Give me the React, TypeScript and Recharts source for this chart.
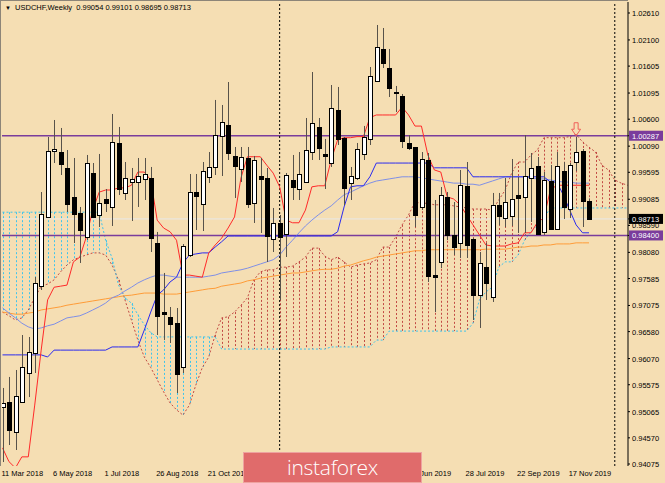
import React from "react";
import { ComposedChart, Bar, Line, XAxis, YAxis, ReferenceLine, ReferenceDot } from "recharts";

// weekly USDCHF candles, index 0 = week of 11 Mar 2018
const OPENS = [
  0.95154, 0.95248, 0.9468, 0.95248, 0.95797, 0.96175, 0.97443, 0.9875, 0.99998, 0.99979,
  0.99677, 0.99128, 0.98825, 0.98371, 0.99582, 0.98787, 0.9909, 0.98939, 1.0015, 0.99204,
  0.99412, 0.99412, 0.99469, 0.99488, 0.98257, 0.96951, 0.96857, 0.96743, 0.95911, 0.9803,
  0.99222, 0.98995, 0.99506, 0.99696, 1.00282, 1.00491, 0.99904, 0.99658, 0.99866, 0.99014,
  0.99525, 0.99488, 0.98333, 0.98636, 0.98428, 0.9945, 0.99279, 0.99412, 0.99979, 1.00453,
  0.99942, 0.99771, 1.00774, 1.00244, 0.99393, 0.99488, 0.99942, 1.00226, 1.01323, 1.01929,
  1.01569, 1.01115, 1.01039, 1.0015, 1.00074, 0.98939, 0.99828, 0.97652, 0.97898, 0.99128,
  0.98409, 0.98257, 0.99336, 0.98333, 0.97273, 0.97803, 0.97235, 0.98976, 0.98731, 0.98768,
  0.99166, 0.99128, 0.99488, 0.99715, 0.98466, 0.99431, 0.98522, 0.9962, 0.98901, 0.9979,
  0.99998, 0.99054,
];
const HIGHS = [
  0.95514, 0.95722, 0.95854, 0.96516, 0.96478, 0.97614, 0.99222, 1.00263, 1.00585, 1.00434,
  1.00017, 0.99866, 0.98939, 0.99923, 0.99771, 0.99942, 0.99279, 1.00699, 1.00453, 0.9979,
  0.99677, 0.99866, 0.99866, 0.99696, 0.98466, 0.9769, 0.97046, 0.97027, 0.98238, 0.99563,
  0.99563, 0.9979, 0.99979, 1.00964, 1.00869, 1.01304, 1.00074, 1.00074, 1.00074, 0.99904,
  0.99866, 0.99677, 0.9892, 0.98787, 0.99582, 0.99923, 0.99979, 1.00623, 1.01493, 1.00623,
  1.00226, 1.01247, 1.0121, 1.00263, 0.99696, 1.0015, 1.00472, 1.01588, 1.02383, 1.02326,
  1.01929, 1.01229, 1.01077, 1.00301, 1.00074, 0.99979, 0.9996, 0.99071, 0.99317, 0.99222,
  0.99033, 0.99639, 0.9979, 0.98352, 0.98087, 0.98257, 0.99204, 0.99204, 0.99488, 0.99847,
  0.99506, 1.00301, 0.9996, 0.99885, 0.99601, 0.99734, 0.99979, 0.9979, 0.99771, 1.00263,
  1.00036, 0.99101,
];
const LOWS = [
  0.94112, 0.94434, 0.9434, 0.95229, 0.95342, 0.95797, 0.97368, 0.98731, 0.99771, 0.99544,
  0.98844, 0.98257, 0.97879, 0.98314, 0.98731, 0.9856, 0.98844, 0.98579, 0.99166, 0.99071,
  0.98674, 0.98939, 0.99071, 0.98087, 0.96516, 0.96422, 0.96365, 0.95418, 0.95797, 0.97992,
  0.98503, 0.98484, 0.99393, 0.99544, 0.99525, 0.99828, 0.99109, 0.99412, 0.9892, 0.98636,
  0.98447, 0.97898, 0.98087, 0.97179, 0.97992, 0.99071, 0.99071, 0.99393, 0.99828, 0.99828,
  0.99279, 0.99696, 1.00112, 0.98976, 0.99071, 0.9945, 0.99828, 1.00112, 1.01304, 1.01569,
  1.0102, 1.00736, 1.00055, 1.00017, 0.9856, 0.98882, 0.97519, 0.96951, 0.97784, 0.98314,
  0.9803, 0.97974, 0.97974, 0.968, 0.96649, 0.97179, 0.97141, 0.98598, 0.9856, 0.98579,
  0.98447, 0.98447, 0.98655, 0.98428, 0.98409, 0.98503, 0.98503, 0.98712, 0.98731, 0.9962,
  0.9856, 0.98695,
];
const CLOSES = [
  0.95229, 0.94718, 0.95361, 0.95911, 0.96194, 0.975, 0.98806, 0.99998, 1.00036, 0.99752,
  0.98995, 0.98806, 0.98503, 0.99771, 0.9875, 0.99014, 0.99014, 1.00169, 0.99279, 0.99488,
  0.99469, 0.99525, 0.99563, 0.98352, 0.96876, 0.96913, 0.96724, 0.95778, 0.98201, 0.99222,
  0.99147, 0.9962, 0.99696, 1.00301, 1.00547, 0.99961, 0.99715, 0.99885, 0.98995, 0.99828,
  0.99469, 0.9839, 0.98636, 0.98371, 0.99544, 0.99317, 0.99563, 1.00017, 1.00528, 1.00055,
  0.99904, 1.00812, 1.00226, 0.99298, 0.99525, 1.00036, 1.00263, 1.01418, 1.01967, 1.01664,
  1.01191, 1.01096, 1.00188, 1.00055, 0.98787, 0.99847, 0.97633, 0.97614, 0.99166, 0.98409,
  0.98182, 0.99355, 0.9822, 0.97273, 0.97879, 0.975, 0.98976, 0.98768, 0.99033, 0.9909,
  0.99109, 0.99525, 0.99677, 0.98428, 0.9945, 0.98522, 0.99715, 0.98939, 0.99734, 0.99979,
  0.99054, 0.98713,
];

// Ichimoku lines
const TENKAN = [
  0.9438, 0.9412, 0.94, 0.9421, 0.9421, 0.9519, 0.9623, 0.9718, 0.9742, 0.9744,
  0.9746, 0.979, 0.9799, 0.9837, 0.9888, 0.9922, 0.9926, 0.9926, 0.993, 0.993,
  0.9935, 0.996, 0.996, 0.9945, 0.9869, 0.9854, 0.9847, 0.9831, 0.9765, 0.9765,
  0.9763, 0.9761, 0.9807, 0.9822, 0.9835, 0.9854, 0.9875, 0.9949, 0.9989, 0.9989,
  0.9989, 0.9973, 0.9958, 0.9932, 0.9869, 0.9864, 0.9864, 0.9888, 0.9932, 0.9934,
  0.9934, 0.9983, 1.0021, 1.0025, 1.0025, 1.0027, 1.0027, 1.0063, 1.0068, 1.0068,
  1.0068, 1.0068, 1.0083, 1.0068, 1.0047, 1.0047, 0.9992, 0.9964, 0.996, 0.9913,
  0.9909, 0.9898, 0.9879, 0.986, 0.9841, 0.9822, 0.982, 0.982, 0.982, 0.9824,
  0.9826, 0.9845, 0.9845, 0.9865, 0.9873, 0.9926, 0.9935, 0.9935, 0.9935, 0.9935,
  0.9935, 0.9935,
];
const KIJUN = [
  0.9614, 0.9614, 0.9614, 0.9614, 0.9614, 0.9614, 0.9614, 0.961, 0.9623, 0.9623,
  0.9623, 0.9623, 0.9623, 0.9623, 0.9623, 0.9623, 0.9623, 0.9629, 0.9629, 0.9629,
  0.9629, 0.9629, 0.9661, 0.9695, 0.9727, 0.9737, 0.9752, 0.9761, 0.9788, 0.9803,
  0.9805, 0.9807, 0.9807, 0.9818, 0.9828, 0.9839, 0.9839, 0.9839, 0.9839, 0.9839,
  0.9839, 0.9839, 0.9839, 0.9839, 0.9839, 0.9839, 0.9839, 0.9839, 0.9839, 0.9839,
  0.9839, 0.9839, 0.9847, 0.9894, 0.9932, 0.9934, 0.9934, 0.9951, 0.9977, 0.9977,
  0.9977, 0.9977, 0.9977, 0.9977, 0.9977, 0.9977, 0.9977, 0.9968, 0.9968, 0.9968,
  0.9968, 0.9968, 0.9968, 0.9951, 0.9951, 0.9951, 0.9951, 0.9951, 0.9951, 0.9951,
  0.9951, 0.9951, 0.9951, 0.9951, 0.9951, 0.9941, 0.9941, 0.9917, 0.9888, 0.986,
  0.9845, 0.9845,
];
// senkou spans, already shifted 26 weeks ahead (run to index 97)
const SPAN_A = [
  0.9695, 0.9688, 0.968, 0.9684, 0.9699, 0.9722, 0.9744, 0.9748, 0.9756, 0.9771,
  0.9784, 0.9794, 0.9799, 0.9803, 0.9807, 0.9807, 0.9803, 0.9784, 0.9756, 0.9718,
  0.968, 0.9642, 0.961, 0.959, 0.9567, 0.9544, 0.9523, 0.951, 0.95, 0.9519,
  0.9557, 0.959, 0.961, 0.9652, 0.9684, 0.9686, 0.9695, 0.9708, 0.9722, 0.9756,
  0.9771, 0.9775, 0.9775, 0.978, 0.978, 0.9782, 0.979, 0.9799, 0.9816, 0.9816,
  0.9801, 0.9794, 0.9799, 0.979, 0.978, 0.9784, 0.9786, 0.9788, 0.9794, 0.9818,
  0.9818, 0.9837, 0.986, 0.9879, 0.9903, 0.9901, 0.9901, 0.9898, 0.9898, 0.9898,
  0.9896, 0.9894, 0.9892, 0.989, 0.989, 0.989, 0.9888, 0.9907, 0.9926, 0.9958,
  0.9979, 0.9979, 0.9992, 1.0002, 1.0025, 1.0025, 1.0025, 1.0025, 1.0027, 1.0031,
  1.0017, 1.0007, 0.9998, 0.9973, 0.9964, 0.9945, 0.9939, 0.9935,
];
const SPAN_B = [
  0.9884, 0.9884, 0.9884, 0.9884, 0.9884, 0.9884, 0.9884, 0.9884, 0.9884, 0.9884,
  0.9884, 0.9884, 0.9884, 0.9884, 0.9884, 0.9884, 0.9831, 0.9797, 0.9746, 0.9722,
  0.9712, 0.969, 0.9671, 0.9656, 0.9648, 0.9648, 0.9648, 0.9648, 0.9648, 0.9648,
  0.9648, 0.9648, 0.9648, 0.9648, 0.9625, 0.9625, 0.9625, 0.9625, 0.9625, 0.9625,
  0.9625, 0.9625, 0.9625, 0.9625, 0.9625, 0.9625, 0.9625, 0.9625, 0.9625, 0.9625,
  0.9625, 0.9629, 0.9629, 0.9629, 0.9629, 0.9629, 0.9629, 0.9629, 0.9642, 0.9642,
  0.9659, 0.9659, 0.9659, 0.9659, 0.9659, 0.9659, 0.9659, 0.9659, 0.9659, 0.9659,
  0.9659, 0.9659, 0.9659, 0.9674, 0.9718, 0.9733, 0.9742, 0.978, 0.979, 0.979,
  0.9803, 0.9831, 0.9847, 0.986, 0.9873, 0.9892, 0.9892, 0.9892, 0.9892, 0.9892,
  0.9892, 0.9892, 0.9892, 0.9892, 0.9892, 0.9892, 0.9892, 0.9892,
];

// moving averages
const MA_FAST = [
  0.9703, 0.9693, 0.9684, 0.9674, 0.9667, 0.9663, 0.9665, 0.9669, 0.9672, 0.9678,
  0.9684, 0.9686, 0.9688, 0.9693, 0.9699, 0.9705, 0.9712, 0.9722, 0.9727, 0.9735,
  0.9742, 0.975, 0.9756, 0.9761, 0.9765, 0.9765, 0.9763, 0.9761, 0.9761, 0.9761,
  0.9761, 0.9761, 0.9763, 0.9765, 0.9769, 0.9771, 0.9773, 0.9775, 0.9778, 0.9782,
  0.9786, 0.979, 0.9794, 0.9803, 0.9818, 0.9831, 0.9845, 0.9858, 0.9869, 0.9879,
  0.9888, 0.9896, 0.9907, 0.9917, 0.9922, 0.9928, 0.9934, 0.9939, 0.9943, 0.9945,
  0.9947, 0.9949, 0.9951, 0.9951, 0.9951, 0.9949, 0.9947, 0.9945, 0.9943, 0.9941,
  0.9939, 0.9939, 0.9937, 0.9937, 0.9935, 0.9939, 0.9943, 0.9947, 0.9951, 0.9951,
  0.9951, 0.9951, 0.9949, 0.9947, 0.9947, 0.9945, 0.9943, 0.9941, 0.9941, 0.9939,
  0.9939, 0.9939,
];
const MA_SLOW = [
  0.9695, 0.9693, 0.9691, 0.9691, 0.9693, 0.9695, 0.9699, 0.9701, 0.9703, 0.9705,
  0.9708, 0.971, 0.9712, 0.9714, 0.9716, 0.9718, 0.972, 0.9722, 0.9724, 0.9726,
  0.9727, 0.9729, 0.9731, 0.9731, 0.9731, 0.9729, 0.9729, 0.9729, 0.9731, 0.9733,
  0.9735, 0.9737, 0.9739, 0.974, 0.9744, 0.9746, 0.9748, 0.975, 0.9754, 0.9756,
  0.9759, 0.9761, 0.9763, 0.9765, 0.9767, 0.9769, 0.9769, 0.9771, 0.9773, 0.9775,
  0.9776, 0.9776, 0.9778, 0.9782, 0.9784, 0.9788, 0.9792, 0.9795, 0.9799, 0.9801,
  0.9803, 0.9805, 0.9807, 0.9809, 0.9811, 0.9811, 0.9813, 0.9813, 0.9813, 0.9813,
  0.9813, 0.9813, 0.9813, 0.9813, 0.9813, 0.9814, 0.9814, 0.9814, 0.9814, 0.9816,
  0.9818, 0.9818, 0.982, 0.982, 0.9822, 0.9822, 0.9824, 0.9824, 0.9824, 0.9826,
  0.9826, 0.9826,
];

const Y_TICKS = [
  1.0261, 1.021, 1.01605, 1.01095, 1.006, 1.0009, 0.99595, 0.99085, 0.9859,
  0.9808, 0.97585, 0.97075, 0.9658, 0.9607, 0.95575, 0.95065, 0.9457, 0.94075,
];
const RESIST = 1.00287;
const SUPPORT = 0.984;
const BID = 0.98713;
const X_TICKS = [0, 8, 16, 24, 32, 40, 48, 56, 64, 72, 80, 88];
const X_LABELS = [
  "11 Mar 2018", "6 May 2018", "1 Jul 2018", "26 Aug 2018", "21 Oct 2018", "16 Dec 2018",
  "10 Feb 2019", "7 Apr 2019", "2 Jun 2019", "28 Jul 2019", "22 Sep 2019", "17 Nov 2019",
];
const YEAR_SEPARATORS = [43, 95];
const ARROW_WEEK = 89;

const BG = "#f5deb3";
const PURPLE = "#7a3c9c";
const KUMO_UP = "#c24a44";
const KUMO_DOWN = "#3ec4ec";
const FONT = "'Liberation Sans', Arial, sans-serif";
const W = 665;
const H = 483;
const X_AXIS_H = 17;

const rows = SPAN_A.map((a, i) => {
  const b = SPAN_B[i];
  const has = i < CLOSES.length;
  return {
    i,
    o: has ? OPENS[i] : null,
    h: has ? HIGHS[i] : null,
    l: has ? LOWS[i] : null,
    c: has ? CLOSES[i] : null,
    candle: has ? [LOWS[i], HIGHS[i]] : null,
    tenkan: i < TENKAN.length ? TENKAN[i] : null,
    kijun: i < KIJUN.length ? KIJUN[i] : null,
    maFast: i < MA_FAST.length ? MA_FAST[i] : null,
    maSlow: i < MA_SLOW.length ? MA_SLOW[i] : null,
    spanA: a,
    spanB: b,
    kumo: [Math.min(a, b), Math.max(a, b)],
  };
});

const Candle = (props: any) => {
  const { x, y, width, height } = props;
  const p = props.payload || props;
  if (p.o == null || !isFinite(y) || !isFinite(height)) return null;
  const k = height / (p.h - p.l);
  const cx = Math.round(x + width / 2) + 0.5;
  const yo = y + (p.h - p.o) * k;
  const yc = y + (p.h - p.c) * k;
  const top = Math.round(Math.min(yo, yc)) + 0.5;
  const bh = Math.max(Math.round(Math.abs(yc - yo)), 1);
  return (
    <g>
      <line x1={cx} x2={cx} y1={y} y2={y + height} stroke="#57524a" strokeWidth={1} />
      <rect x={cx - 2} y={top} width={4} height={bh} fill={p.c >= p.o ? "#ffffff" : "#000000"} stroke="#000" strokeWidth={1} />
    </g>
  );
};

const Hatch = (props: any) => {
  const { x, y, width, height } = props;
  const p = props.payload || props;
  if (!isFinite(y) || !isFinite(height) || Math.abs(height) < 1) return null;
  const cx = Math.round(x + width / 2) + 0.5;
  const color = p.spanA > p.spanB ? KUMO_UP : KUMO_DOWN;
  return <line x1={cx} x2={cx} y1={y} y2={y + height} stroke={color} strokeWidth={1} strokeDasharray="2 2" />;
};

const PriceTick = (props: any) => {
  const { x, y, payload } = props;
  const v = payload.value;
  const tag = v === RESIST || v === SUPPORT ? PURPLE : v === BID ? "#000" : null;
  if (tag) {
    return (
      <g>
        <rect x={x - 3} y={y - 5} width={34} height={10} fill={tag} />
        <text x={x} y={y} dy={3} fontSize={7.5} fontFamily={FONT} fill="#fff">{v.toFixed(5)}</text>
      </g>
    );
  }
  return <text x={x} y={y} dy={3} fontSize={7.5} fontFamily={FONT} fill="#000">{v.toFixed(5)}</text>;
};

// date labels sit just under the bottom axis line, starting at their week
const DateTick = (props: any) => {
  const { x, payload } = props;
  const k = X_TICKS.indexOf(payload.value);
  return <text x={x - 1} y={H - X_AXIS_H + 10} fontSize={7.5} fontFamily={FONT} fill="#000" textAnchor="start">{X_LABELS[k]}</text>;
};

const Arrow = (props: any) => {
  const { cx, cy } = props;
  if (!isFinite(cx) || !isFinite(cy)) return null;
  const pts = [[0, 0], [-4.5, -6.5], [-2, -6.5], [-2, -13], [2, -13], [2, -6.5], [4.5, -6.5]]
    .map(([dx, dy]) => `${cx + dx},${cy + dy}`).join(" ");
  return <polygon points={pts} fill="none" stroke="#f0605a" strokeWidth={1} />;
};

const DOMAIN_X: [number, number] = [-0.078, 97.05];

export default function App() {
  return (
    <div style={{ position: "absolute", left: 0, top: 0, width: W, height: H, background: BG, overflow: "hidden", fontFamily: FONT }}>
      <ComposedChart width={W} height={H} data={rows} margin={{ top: 2, right: 0, bottom: 0, left: 2 }}>
        <XAxis xAxisId="p" dataKey="i" type="number" domain={DOMAIN_X} allowDataOverflow ticks={X_TICKS} interval={0}
          tick={<DateTick />} tickSize={3} axisLine={{ stroke: "#000" }} tickLine={{ stroke: "#000" }} height={X_AXIS_H} />
        <XAxis xAxisId="k" dataKey="i" type="number" domain={DOMAIN_X} allowDataOverflow hide />
        <YAxis yAxisId="p" orientation="right" type="number" domain={[0.94037, 1.02818]} allowDataOverflow
          ticks={[...Y_TICKS, RESIST, BID, SUPPORT]} interval={0} tick={<PriceTick />} width={37}
          tickSize={2} tickMargin={2} axisLine={{ stroke: "#000" }} tickLine={{ stroke: "#000" }} />

        <Bar xAxisId="k" yAxisId="p" dataKey="kumo" barSize={1} shape={Hatch} isAnimationActive={false} zIndex={100} />
        <Line xAxisId="p" yAxisId="p" dataKey="spanA" stroke={KUMO_UP} strokeDasharray="2 2" dot={false} strokeWidth={1} isAnimationActive={false} />
        <Line xAxisId="p" yAxisId="p" dataKey="spanB" stroke={KUMO_DOWN} strokeDasharray="2 2" dot={false} strokeWidth={1} isAnimationActive={false} />

        <ReferenceLine xAxisId="p" yAxisId="p" y={BID} stroke="#e8e8e8" strokeWidth={1} />
        <ReferenceLine xAxisId="p" yAxisId="p" y={RESIST} stroke={PURPLE} strokeWidth={1.5} />
        <ReferenceLine xAxisId="p" yAxisId="p" y={SUPPORT} stroke={PURPLE} strokeWidth={1.5} />
        {YEAR_SEPARATORS.map((w) => (
          <ReferenceLine key={w} xAxisId="p" yAxisId="p" x={w} stroke="#000" strokeDasharray="2 2" strokeWidth={1} />
        ))}

        <Line xAxisId="p" yAxisId="p" dataKey="maSlow" stroke="#ff9c38" dot={false} strokeWidth={1} isAnimationActive={false} />
        <Line xAxisId="p" yAxisId="p" dataKey="maFast" stroke="#7f8fe6" dot={false} strokeWidth={1} isAnimationActive={false} />
        <Line xAxisId="p" yAxisId="p" dataKey="kijun" stroke="#2a2af0" dot={false} strokeWidth={1} isAnimationActive={false} />
        <Line xAxisId="p" yAxisId="p" dataKey="tenkan" stroke="#ff2a2a" dot={false} strokeWidth={1} isAnimationActive={false} />

        <Bar xAxisId="p" yAxisId="p" dataKey="candle" barSize={5} shape={Candle} isAnimationActive={false} zIndex={450} />
        <ReferenceDot xAxisId="p" yAxisId="p" x={ARROW_WEEK} y={RESIST} r={0} shape={Arrow} zIndex={460} />
      </ComposedChart>

      <div style={{ position: "absolute", left: 0, top: 0, width: 628, height: 1, background: "#8d8578" }} />
      <div style={{ position: "absolute", left: 0, top: 0, width: 1, height: 466, background: "#8d8578" }} />

      <div style={{ position: "absolute", left: 5, top: 3, fontSize: 7.5, color: "#000", whiteSpace: "pre", lineHeight: "10px" }}>
        <span style={{ fontSize: 6 }}>▼</span>{"  USDCHF,Weekly  0.99054 0.99101 0.98695 0.98713"}
      </div>

      <div style={{ position: "absolute", left: 243, top: 452, width: 179, height: 31, background: "#e06b6b", border: "1px solid #eea3a0", boxSizing: "border-box", display: "flex", alignItems: "center", justifyContent: "center" }}>
        <span style={{ color: "#fff", fontFamily: "'Open Sans', sans-serif", fontWeight: 300, fontSize: 21, letterSpacing: -0.3, lineHeight: "31px" }}>instaforex</span>
      </div>
    </div>
  );
}
